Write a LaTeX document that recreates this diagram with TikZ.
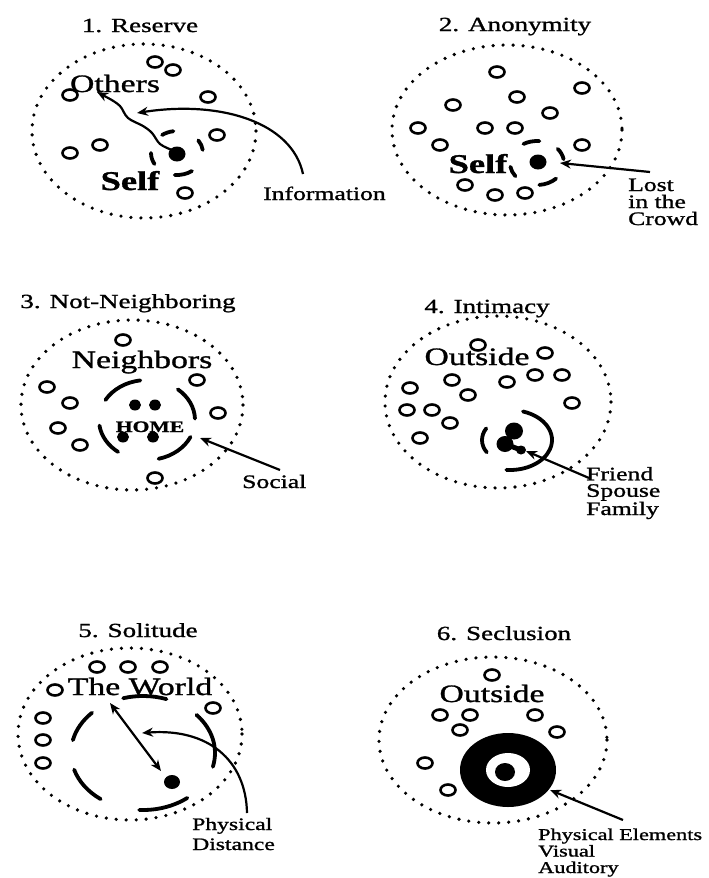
\documentclass[tikz,border=0pt]{standalone}
\usepackage{fontspec}
\setmainfont{Liberation Serif}[FakeStretch=1.35, FakeBold=1.2]
\usetikzlibrary{arrows.meta}
\newcommand\fsz[2]{\fontsize{#1}{#2}\selectfont}
\begin{document}
\begin{tikzpicture}[x=1pt,y=-1pt,
  dotring/.style={line width=3.6pt, dash pattern=on 0pt off 10pt, line cap=round},
  openc/.style={line width=2.6pt},
  dashseg/.style={line width=3.8pt, line cap=round},
  arr/.style={line width=2.2pt, -{Stealth[length=11pt,width=9pt]}},
  title/.style={inner sep=0pt, anchor=base, font=\fsz{20}{20}},
  big/.style={inner sep=0pt, anchor=base, font=\fsz{25}{25}},
  lbl/.style={inner sep=0pt, anchor=base west, align=left}]
\useasboundingbox (0,0) rectangle (709,878);

% ---------------- Panel 1: Reserve
\node[title] (t1) at (140,32) {1. Reserve};
\draw[dotring] (144,131) ellipse[x radius=112, y radius=87];
\foreach \p in {(155,62),(173,70),(70,95),(208,97),(217,135),(70,153),(100,145),(185,193)}
  \draw[openc] \p ellipse[x radius=7.5, y radius=5.5];
\node[big] (others) at (115,92) {Others};
\node[big, font=\fsz{27}{27}\bfseries] (self1) at (130,190) {Self};
\fill (177,154) ellipse[x radius=8.5, y radius=7.5];
\coordinate (dot1) at (172,150);
\foreach \a/\b in {235/262, 325/352, 150/180, 55/95}
  \draw[dashseg] (177,153) ++(\a:26 and 22) arc[start angle=\a, end angle=\b, x radius=26, y radius=22];
\draw[line width=2.2pt, -{Stealth[length=11pt,width=9pt]}] plot[smooth, tension=0.6] coordinates {(172,150) (160,144) (152,133) (143,126) (128,118) (120,106) (110,99)} -- (97,92);
\node[lbl, font=\fsz{19}{19}] (info) at (263,200) {Information};
\coordinate (infotail) at (303,174);
\draw[arr] (infotail) .. controls (292,122) and (220,100) .. (137,113);

% ---------------- Panel 2: Anonymity
\node[title] (t2) at (515,31) {2. Anonymity};
\draw[dotring] (507,130) ellipse[x radius=115, y radius=85];
\foreach \p in {(497,72),(582,88),(453,105),(517,97),(550,113),(418,128),(485,128),(515,128),(440,145),(582,145),(465,185),(495,195),(525,193)}
  \draw[openc] \p ellipse[x radius=7.5, y radius=5.5];
\node[big, font=\fsz{27}{27}\bfseries] (self2) at (478,173) {Self};
\fill (538,162) ellipse[x radius=8.5, y radius=7.5];
\coordinate (dot2) at (546,162);
\foreach \a/\b in {240/275, 320/350, 143/170, 45/85}
  \draw[dashseg] (537,163) ++(\a:27 and 22) arc[start angle=\a, end angle=\b, x radius=27, y radius=22];
\node[lbl, font=\fsz{19}{17}] (lost) at (628,225) {Lost\\in the\\Crowd};
\coordinate (losttail) at (650,172);
\draw[arr] (losttail) -- (560,163);

% ---------------- Panel 3: Not-Neighboring
\node[title] (t3) at (128,308) {3. Not-Neighboring};
\draw[dotring] (132,405) ellipse[x radius=111, y radius=85];
\foreach \p in {(123,340),(47,387),(70,403),(197,380),(218,413),(58,428),(80,445),(155,478)}
  \draw[openc] \p ellipse[x radius=7.5, y radius=5.5];
\node[big] (neigh) at (142,368) {Neighbors};
\foreach \p in {(135,405),(155,405),(123,437),(153,437)}
  \fill \p ellipse[x radius=6, y radius=5.5];
\node[inner sep=0pt, anchor=base, font=\fsz{16}{16}\bfseries] (home) at (150,432) {HOME};
\foreach \a/\b in {210/262, 310/358, 127/172, 25/76}
  \draw[dashseg] (147,420) ++(\a:48 and 40) arc[start angle=\a, end angle=\b, x radius=48, y radius=40];
\node[lbl, font=\fsz{19}{19}] (social) at (242,488) {Social};
\coordinate (socialtail) at (280,470);
\draw[arr] (socialtail) -- (200,438);

% ---------------- Panel 4: Intimacy
\node[title] (t4) at (487,313) {4. Intimacy};
\draw[dotring] (498,402) ellipse[x radius=113, y radius=86];
\foreach \p in {(478,345),(545,353),(410,388),(452,380),(468,395),(507,382),(535,375),(562,375),(407,410),(432,410),(450,423),(572,403),(420,438)}
  \draw[openc] \p ellipse[x radius=7.5, y radius=5.5];
\node[big] (out4) at (477,365) {Outside};
\fill (514,431) ellipse[x radius=9, y radius=8.5];
\fill (505,444) ellipse[x radius=8.5, y radius=8];
\fill (521,450) ellipse[x radius=5, y radius=4.5];
\draw[line width=5pt] (514,431) -- (505,444) -- (521,450);
\draw[dashseg] (510,440) ++(146:28 and 22) arc[start angle=146, end angle=212, x radius=28, y radius=22];
\draw[dashseg] (510,440) ++(-72:42 and 30) arc[start angle=-72, end angle=95, x radius=42, y radius=30];
\node[lbl, font=\fsz{19}{16.5}] (friend) at (586,515) {Friend\\Spouse\\Family};
\coordinate (friendtail) at (589,478);
\draw[arr] (friendtail) -- (526,451);

% ---------------- Panel 5: Solitude
\node[title] (t5) at (138,637) {5. Solitude};
\draw[dotring] (130,734) ellipse[x radius=112, y radius=86];
\foreach \p in {(97,667),(128,667),(160,667),(55,690),(213,708),(43,718),(43,740),(43,763)}
  \draw[openc] \p ellipse[x radius=7.5, y radius=5.5];
\node[big] (world) at (140,695) {The World};
\foreach \a/\b in {193/225, 126/163, 52/93, -42/14, -106/-71}
  \draw[dashseg] (143,753) ++(\a:72 and 57) arc[start angle=\a, end angle=\b, x radius=72, y radius=57];
\fill (172,782) ellipse[x radius=8, y radius=7];
\coordinate (wtop) at (110,703);
\coordinate (wbot) at (161,771);
\draw[line width=2.2pt, {Stealth[length=11pt,width=9pt]}-{Stealth[length=11pt,width=9pt]}] (wtop) -- (wbot);
\node[lbl, font=\fsz{17.5}{20}] (phys) at (192,850) {Physical\\Distance};
\coordinate (phystail) at (247,813);
\draw[arr] (phystail) .. controls (246,760) and (208,728) .. (142,733);

% ---------------- Panel 6: Seclusion
\node[title] (t6) at (504,640) {6. Seclusion};
\draw[dotring] (493,740) ellipse[x radius=114, y radius=83];
\foreach \p in {(492,675),(440,715),(470,715),(460,730),(535,715),(557,732),(425,763),(448,790)}
  \draw[openc] \p ellipse[x radius=7.5, y radius=5.5];
\node[big] (out6) at (492,702) {Outside};
\fill (508,770) ellipse[x radius=48, y radius=37];
\fill[white] (508,770) ellipse[x radius=22, y radius=17];
\fill (505,772) ellipse[x radius=10, y radius=9];
\node[lbl, font=\fsz{16.5}{16.5}] (elem) at (538,873) {Physical Elements\\Visual\\Auditory};
\coordinate (elemtail) at (623,820);
\draw[arr] (elemtail) -- (550,790);
\end{tikzpicture}
\end{document}
